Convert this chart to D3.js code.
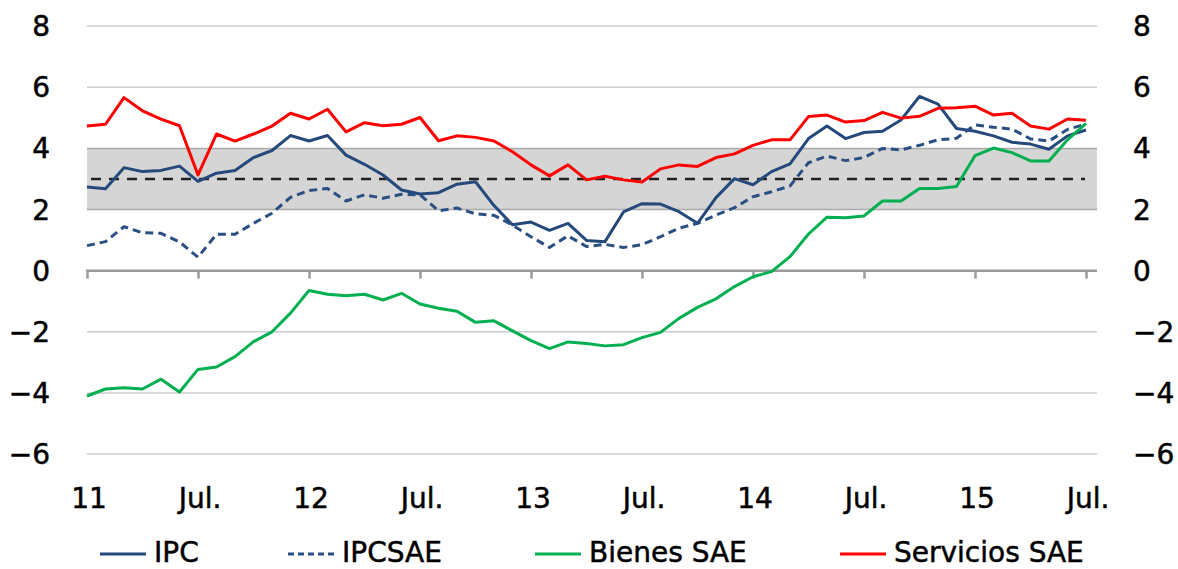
<!DOCTYPE html>
<html>
<head>
<meta charset="utf-8">
<script src="https://cdn.jsdelivr.net/npm/d3@7"></script>
<style>
	body{margin:0;background:#fff;}
	text{font-family:"DejaVu Sans",sans-serif;fill:#000;stroke:#000;stroke-width:0.5px;}
</style>
</head>
<body>
<div id="chart"></div>
<script>
// monthly, Jan 2011 .. Jul 2015
var tickLabels=["11","Jul.","12","Jul.","13","Jul.","14","Jul.","15","Jul."]
var yTicks=[-6,-4,-2,0,2,4,6,8]
var seriesNames=["IPC","IPCSAE","Bienes SAE","Servicios SAE"]

var ipc=[2.74,2.68,3.37,3.24,3.28,3.42,2.92,3.19,3.28,3.70,3.93,4.42,
	4.24,4.42,3.78,3.48,3.13,2.64,2.51,2.55,2.83,2.91,2.13,1.50,
	1.59,1.32,1.55,0.99,0.95,1.92,2.19,2.18,1.93,1.55,2.39,3.01,
	2.81,3.24,3.49,4.32,4.73,4.32,4.52,4.56,4.93,5.70,5.45,4.65,
	4.56,4.41,4.20,4.14,3.97,4.41,4.60]
var ipcsae=[0.82,0.95,1.44,1.24,1.22,0.94,0.44,1.19,1.19,1.55,1.88,2.40,
	2.62,2.69,2.28,2.48,2.37,2.50,2.48,1.96,2.05,1.86,1.81,1.49,
	1.11,0.76,1.14,0.79,0.86,0.76,0.85,1.11,1.39,1.55,1.82,2.06,
	2.42,2.58,2.77,3.53,3.75,3.60,3.70,4.00,3.95,4.10,4.28,4.33,
	4.77,4.69,4.63,4.31,4.24,4.62,4.80]
var bienes=[-4.10,-3.87,-3.83,-3.87,-3.55,-3.97,-3.23,-3.15,-2.81,-2.32,-2.00,-1.39,
	-0.65,-0.77,-0.82,-0.77,-0.96,-0.74,-1.09,-1.23,-1.33,-1.69,-1.64,-1.97,
	-2.29,-2.55,-2.33,-2.38,-2.46,-2.42,-2.19,-2.02,-1.56,-1.20,-0.92,-0.52,
	-0.20,-0.03,0.46,1.20,1.75,1.73,1.79,2.28,2.28,2.69,2.69,2.75,
	3.76,4.01,3.86,3.59,3.59,4.28,4.82]
var servicios=[4.73,4.79,5.66,5.23,4.96,4.74,3.13,4.47,4.24,4.47,4.73,5.15,
	4.96,5.28,4.54,4.84,4.74,4.79,5.01,4.25,4.41,4.36,4.24,3.89,
	3.46,3.10,3.46,2.97,3.09,2.97,2.90,3.33,3.46,3.41,3.70,3.82,
	4.10,4.28,4.28,5.04,5.09,4.86,4.91,5.18,4.99,5.05,5.31,5.33,
	5.38,5.09,5.15,4.73,4.63,4.96,4.92]

var band=[2,4], target=3

var width=1178, height=569

var svg=d3.select("#chart").append("svg")
	.attr("width",width)
	.attr("height",height)

var x=d3.scaleLinear().domain([0,54]).range([87,1086])
var y=d3.scaleLinear().domain([-6,8]).range([454.1,26.1])
var xEnd=1097

// gray target band
svg.append("rect")
	.attr("x",x(0))
	.attr("width",xEnd-x(0))
	.attr("y",y(band[1]))
	.attr("height",y(band[0])-y(band[1]))
	.attr("fill","#d5d5d5")

svg.selectAll(".grid")
	.data(yTicks.filter(function(d){return d!==0;}))
	.enter().append("line")
	.attr("class","grid")
	.attr("x1",x(0)).attr("x2",xEnd)
	.attr("y1",function(d){return y(d);})
	.attr("y2",function(d){return y(d);})
	.attr("stroke",function(d){return (d===band[0]||d===band[1]) ? "#aaaaaa" : "#cccccc";})
	.attr("stroke-width",1.5)

svg.append("line")
	.attr("x1",x(0)+4).attr("x2",xEnd-12)
	.attr("y1",y(target)).attr("y2",y(target))
	.attr("stroke","#222")
	.attr("stroke-width",2.5)
	.attr("stroke-dasharray","10,8")

// x axis on zero
var xAxis=d3.axisBottom(x)
	.tickValues(d3.range(0,55,6))
	.tickSize(8)
	.tickFormat("")
var gx=svg.append("g")
	.attr("transform","translate(0,"+y(0)+")")
	.call(xAxis)
gx.select(".domain").remove()
gx.selectAll(".tick line").attr("stroke","#9a9a9a").attr("stroke-width",2.5)
gx.append("line")
	.attr("x1",x(0)-1).attr("x2",xEnd)
	.attr("stroke","#9a9a9a").attr("stroke-width",2.5)

svg.selectAll(".xlbl")
	.data(tickLabels)
	.enter().append("text")
	.attr("class","xlbl")
	.attr("x",function(d,i){return x(i*6)+2;})
	.attr("y",508)
	.attr("text-anchor","middle")
	.style("font-size","28px")
	.text(function(d){return d;})

function fmt(d){return d<0 ? "\u2212"+Math.abs(d) : ""+d;}

svg.selectAll(".ylbl")
	.data(yTicks)
	.enter().append("text")
	.attr("class","ylbl")
	.attr("x",50)
	.attr("y",function(d){return y(d)+10;})
	.attr("text-anchor","end")
	.style("font-size","28px")
	.text(fmt)

svg.selectAll(".ylbr")
	.data(yTicks)
	.enter().append("text")
	.attr("class","ylbr")
	.attr("x",1133)
	.attr("y",function(d){return y(d)+10;})
	.style("font-size","28px")
	.text(fmt)

var line=d3.line()
	.x(function(d,i){return x(i);})
	.y(function(d){return y(d);})

var series=[
	{name:seriesNames[0],values:ipc,color:"#24497a",dash:null},
	{name:seriesNames[1],values:ipcsae,color:"#2b4f82",dash:"8,5"},
	{name:seriesNames[2],values:bienes,color:"#00b050",dash:null},
	{name:seriesNames[3],values:servicios,color:"#ff0000",dash:null}
]

svg.selectAll(".serie")
	.data(series)
	.enter().append("path")
	.attr("class","serie")
	.attr("d",function(d){return line(d.values);})
	.attr("fill","none")
	.attr("stroke",function(d){return d.color;})
	.attr("stroke-width",3)
	.attr("stroke-linejoin","round")
	.attr("stroke-dasharray",function(d){return d.dash;})

// legend
var legX=[100,288,535,840]
var leg=svg.selectAll(".leg")
	.data(series)
	.enter().append("g")
	.attr("class","leg")
	.attr("transform",function(d,i){return "translate("+legX[i]+",554)";})
leg.append("line")
	.attr("x1",0).attr("x2",46)
	.attr("stroke",function(d){return d.color;})
	.attr("stroke-width",3)
	.attr("stroke-dasharray",function(d){return d.dash ? "6,4" : null;})
leg.append("text")
	.attr("x",54)
	.attr("y",8)
	.style("font-size","28px")
	.text(function(d){return d.name;})
</script>
</body>
</html>
